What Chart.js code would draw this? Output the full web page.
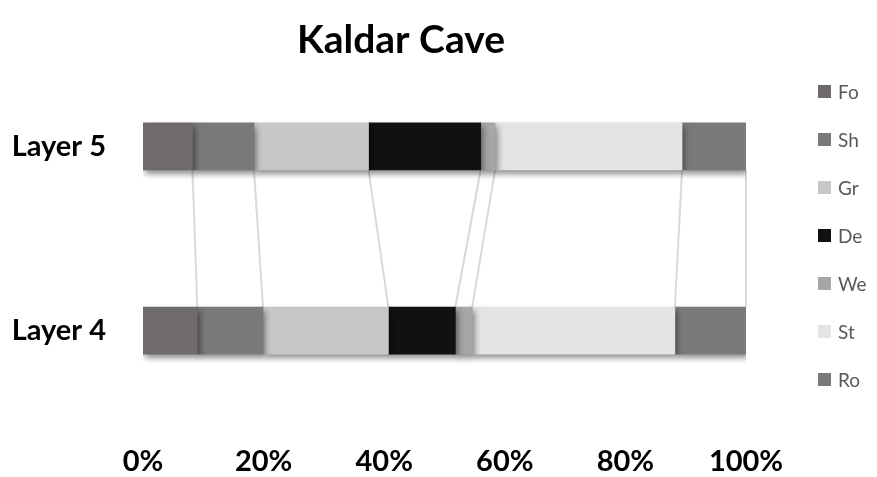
<!DOCTYPE html>
<html>
<head>
<meta charset="utf-8">
<script src="https://cdn.jsdelivr.net/npm/chart.js@4.4.1/dist/chart.umd.min.js"></script>
<style>
  html, body { margin: 0; padding: 0; background: #ffffff; }
  #wrap { width: 877px; height: 477px; }
</style>
</head>
<body>
<div id="wrap"><canvas id="c" width="877" height="477"></canvas></div>
<script>
// ---- data ----
const chartTitle = 'Kaldar Cave';
const categories = ['Layer 5', 'Layer 4'];
const seriesNames = ['Fo', 'Sh', 'Gr', 'De', 'We', 'St', 'Ro'];
const Fo = [8.2, 9.0];
const Sh = [10.2, 10.9];
const Gr = [19.0, 20.8];
const De = [18.6, 11.1];
const We = [2.4, 2.8];
const St = [31.0, 33.6];
const Ro = [10.6, 11.8];
const xTicks = [0, 20, 40, 60, 80, 100];

const seriesValues = [Fo, Sh, Gr, De, We, St, Ro];
const seriesColors = ['#6f6b6b', '#7a7a7a', '#c7c7c7', '#111111', '#a6a6a6', '#e4e4e4', '#7a7a7a'];

Chart.defaults.font.family = 'Lato, "Open Sans", sans-serif';

// Excel-style series lines connecting the segment ends of the two bars
const seriesLinesPlugin = {
  id: 'seriesLines',
  beforeDatasetsDraw(chart) {
    const ctx = chart.ctx;
    ctx.save();
    ctx.strokeStyle = '#d9d9d9';
    ctx.lineWidth = 2;
    chart.data.datasets.forEach((ds, i) => {
      const meta = chart.getDatasetMeta(i);
      const a = meta.data[0], b = meta.data[1];
      if (!a || !b) return;
      ctx.beginPath();
      ctx.moveTo(a.x, a.y + a.height / 2);
      ctx.lineTo(b.x, b.y - b.height / 2);
      ctx.stroke();
    });
    ctx.restore();
  }
};

// soft drop shadow under the bars
const shadowPlugin = {
  id: 'barShadow',
  beforeDatasetDraw(chart) {
    const ctx = chart.ctx;
    ctx.save();
    ctx.shadowColor = 'rgba(0,0,0,0.45)';
    ctx.shadowBlur = 6;
    ctx.shadowOffsetX = 2;
    ctx.shadowOffsetY = 4;
  },
  afterDatasetDraw(chart) {
    chart.ctx.restore();
  }
};

// vertical legend on the right, drawn from the datasets
const legendPlugin = {
  id: 'rightLegend',
  afterDraw(chart) {
    const ctx = chart.ctx;
    const area = chart.chartArea;
    const n = chart.data.datasets.length;
    const step = 48;
    const cy = (area.top + area.bottom) / 2 - 3;
    const x0 = area.right + 72;
    ctx.save();
    ctx.font = '19px Lato, "Open Sans", sans-serif';
    ctx.textBaseline = 'middle';
    ctx.textAlign = 'left';
    chart.data.datasets.forEach((ds, i) => {
      const y = cy + (i - (n - 1) / 2) * step;
      ctx.fillStyle = ds.backgroundColor;
      ctx.fillRect(x0, y - 6.5, 13, 13);
      ctx.fillStyle = '#595959';
      ctx.fillText(ds.label, x0 + 20, y + 1);
    });
    ctx.restore();
  }
};

const datasets = seriesNames.map((name, i) => ({
  label: name,
  data: seriesValues[i],
  backgroundColor: seriesColors[i],
  borderWidth: 0,
  barThickness: 47
}));

new Chart(document.getElementById('c'), {
  type: 'bar',
  data: { labels: categories, datasets: datasets },
  options: {
    indexAxis: 'y',
    responsive: false,
    animation: false,
    devicePixelRatio: 1,
    layout: { padding: { left: 0, right: 75, top: 0, bottom: 0 } },
    plugins: {
      legend: { display: false },
      tooltip: { enabled: false },
      title: {
        display: true,
        text: chartTitle,
        color: '#000000',
        font: { size: 39, weight: 'bold', lineHeight: 0.5 },
        padding: { top: 27, bottom: 4 }
      }
    },
    scales: {
      x: {
        stacked: true,
        min: 0,
        max: 100,
        afterBuildTicks(scale) { scale.ticks = xTicks.map(v => ({ value: v })); },
        afterFit(scale) { scale.height = 54; },
        grid: { display: false, drawTicks: false },
        border: { display: false },
        ticks: {
          color: '#000000',
          padding: 22,
          font: { size: 29, weight: 'bold' },
          callback: v => v + '%'
        }
      },
      y: {
        stacked: true,
        afterFit(scale) { scale.width = 143; },
        grid: { display: false, drawTicks: false },
        border: { display: false },
        ticks: {
          color: '#000000',
          padding: 37,
          font: { size: 29, weight: 'bold' }
        }
      },
      yRight: {
        type: 'category',
        position: 'right',
        afterFit(scale) { scale.width = 56; },
        grid: { display: false, drawTicks: false },
        border: { display: false },
        ticks: { display: false }
      }
    }
  },
  plugins: [seriesLinesPlugin, shadowPlugin, legendPlugin]
});
</script>
</body>
</html>
